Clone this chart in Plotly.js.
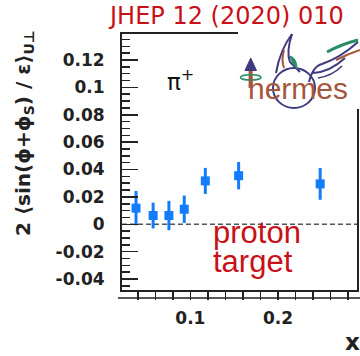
<!DOCTYPE html>
<html>
<head>
<meta charset="utf-8">
<script src="https://cdn.plot.ly/plotly-3.0.1.min.js"></script>
<style>html,body{margin:0;padding:0;background:#fff}#plot{width:360px;height:356px}</style>
</head>
<body>
<div id="plot"></div>
<script>
// ---- data ----
const xValues = [0.038, 0.0575, 0.0755, 0.093, 0.117, 0.155, 0.248];
const asymValues = [0.0118, 0.0064, 0.0064, 0.0110, 0.0317, 0.0355, 0.0295];
const asymErrors = [0.0125, 0.0094, 0.0107, 0.0100, 0.0095, 0.0100, 0.0116];
const yTickVals = [-0.04, -0.02, 0, 0.02, 0.04, 0.06, 0.08, 0.1, 0.12];
const yTickText = ['-0.04', '-0.02', '0', '0.02', '0.04', '0.06', '0.08', '0.1', '0.12'];
const xTickVals = [0.1, 0.2];
const xTickText = ['0.1', '0.2'];

// ---- layout helpers (pixel -> paper) ----
const L = 122, R = 3, T = 34, B = 66, W = 360, H = 356;
const PW = W - L - R, PH = H - T - B;
const px = x => (x - L) / PW;
const py = y => (H - B - y) / PH;
function path(cmds) {
  return cmds.map(c => {
    const k = c[0]; const nums = [];
    for (let i = 1; i < c.length; i += 2) nums.push(px(c[i]).toFixed(4) + ',' + py(c[i + 1]).toFixed(4));
    return k + ' ' + nums.join(' ');
  }).join(' ');
}

const blue = 'rgb(18,124,250)';
const red = 'rgb(200,16,24)';
const navy = 'rgb(62,58,128)';
const brown = 'rgb(166,86,60)';
const green = 'rgb(40,140,100)';

const trace = {
  type: 'scatter', mode: 'markers',
  x: xValues, y: asymValues,
  marker: {symbol: 'square', size: 9, color: blue},
  error_y: {type: 'data', array: asymErrors, visible: true, color: blue, thickness: 3, width: 0},
  showlegend: false, cliponaxis: false
};

const tickFont = {family: 'DejaVu Sans', size: 17, color: '#222', weight: 'bold'};

const shapes = [
  {type: 'line', xref: 'paper', yref: 'y', x0: 0, x1: 1, y0: 0, y1: 0,
   line: {color: '#555', width: 1.5, dash: '5px,3px'}, layer: 'below'},
  {type: 'line', xref: 'paper', yref: 'paper', x0: px(118), x1: 1.02, y0: py(298), y1: py(298),
   line: {color: '#222', width: 1.5}},
  {type: 'rect', xref: 'paper', yref: 'paper', x0: px(238), x1: 1.05, y0: py(109), y1: 1.05,
   fillcolor: '#fff', line: {width: 0}, layer: 'above'},
  {type: 'circle', xref: 'paper', yref: 'paper', x0: px(273), x1: px(315), y0: py(108), y1: py(68),
   line: {color: navy, width: 2}, layer: 'above'},
  {type: 'line', xref: 'paper', yref: 'paper', x0: px(250.6), x1: px(250.6), y0: py(69), y1: py(88),
   line: {color: brown, width: 4}, layer: 'above'},
  {type: 'path', xref: 'paper', yref: 'paper', path: path([['M', 245, 70.5], ['L', 256.5, 70.5], ['L', 250.7, 58], ['Z']]),
   fillcolor: navy, line: {color: navy, width: 1}, layer: 'above'},
  {type: 'circle', xref: 'paper', yref: 'paper', x0: px(240.5), x1: px(261), y0: py(80), y1: py(74.8),
   line: {color: green, width: 1.5}, layer: 'above'},
  {type: 'path', xref: 'paper', yref: 'paper', path: path([['M', 276, 73], ['Q', 280, 50, 292, 34]]),
   line: {color: navy, width: 2}, layer: 'above'},
  {type: 'path', xref: 'paper', yref: 'paper', path: path([['M', 292, 34], ['Q', 286, 52, 290, 62], ['Q', 296, 68, 300, 72]]),
   line: {color: navy, width: 2}, layer: 'above'},
  {type: 'path', xref: 'paper', yref: 'paper', path: path([['M', 284, 50], ['Q', 281, 60, 284, 68]]),
   line: {color: brown, width: 2}, layer: 'above'},
  {type: 'path', xref: 'paper', yref: 'paper', path: path([['M', 290, 56], ['Q', 297, 58, 297, 69], ['Q', 292, 64, 290, 56], ['Z']]),
   fillcolor: green, line: {color: green, width: 1}, layer: 'above'},
  {type: 'path', xref: 'paper', yref: 'paper', path: path([['M', 309, 82], ['Q', 313, 66, 322, 64], ['Q', 340, 58, 358, 42]]),
   line: {color: navy, width: 2}, layer: 'above'},
  {type: 'path', xref: 'paper', yref: 'paper', path: path([['M', 313, 73], ['Q', 330, 72, 345, 58]]),
   line: {color: navy, width: 2}, layer: 'above'},
  {type: 'path', xref: 'paper', yref: 'paper', path: path([['M', 318, 78], ['Q', 332, 76, 342, 66]]),
   line: {color: navy, width: 1.5}, layer: 'above'},
  {type: 'path', xref: 'paper', yref: 'paper', path: path([['M', 327, 52], ['Q', 342, 44, 358, 40]]),
   line: {color: green, width: 3}, layer: 'above'},
  {type: 'path', xref: 'paper', yref: 'paper', path: path([['M', 336, 60], ['Q', 348, 54, 360, 50]]),
   line: {color: brown, width: 2}, layer: 'above'}
];

const annotations = [
  {text: 'JHEP 12 (2020) 010', xref: 'paper', yref: 'paper', x: px(226), y: py(15.5),
   xanchor: 'center', yanchor: 'middle', showarrow: false,
   font: {family: 'DejaVu Sans', size: 24, color: red}},
  {text: '2 ⟨sin(ϕ+ϕ<sub>S</sub>) / ε⟩<sub>U⊥</sub>', xref: 'paper', yref: 'paper', x: px(24), y: py(133),
   xanchor: 'center', yanchor: 'middle', showarrow: false, textangle: -90,
   font: {family: 'DejaVu Sans', size: 20, color: '#222', weight: 'bold'}},
  {text: 'x', xref: 'paper', yref: 'paper', x: px(352), y: py(342),
   xanchor: 'center', yanchor: 'middle', showarrow: false,
   font: {family: 'DejaVu Sans', size: 23, color: '#222', weight: 'bold'}},
  {text: 'π<sup>+</sup>', xref: 'paper', yref: 'paper', x: px(165), y: py(80),
   xanchor: 'left', yanchor: 'middle', showarrow: false,
   font: {family: 'DejaVu Sans', size: 23, color: '#111'}},
  {text: 'hermes', xref: 'paper', yref: 'paper', x: px(246), y: py(88),
   xanchor: 'left', yanchor: 'middle', showarrow: false,
   font: {family: 'Liberation Sans', size: 30, color: brown}},
  {text: 'proton', xref: 'paper', yref: 'paper', x: px(211), y: py(232),
   xanchor: 'left', yanchor: 'middle', showarrow: false,
   font: {family: 'Liberation Sans', size: 31, color: red}},
  {text: 'target', xref: 'paper', yref: 'paper', x: px(211), y: py(261),
   xanchor: 'left', yanchor: 'middle', showarrow: false,
   font: {family: 'Liberation Sans', size: 31, color: red}}
];

const layout = {
  width: W, height: H,
  margin: {l: L, r: R, t: T, b: B, pad: 0},
  paper_bgcolor: '#fff', plot_bgcolor: '#fff',
  showlegend: false,
  xaxis: {
    range: [0.022, 0.29], showgrid: false, zeroline: false,
    showline: true, linecolor: '#222', linewidth: 2, mirror: true,
    tickmode: 'array', tickvals: xTickVals, ticktext: xTickText,
    ticks: 'outside', ticklen: 8, tickwidth: 1.5, tickcolor: '#222',
    minor: {dtick: 0.02, tick0: 0, ticks: 'outside', ticklen: 8, tickwidth: 1.5, tickcolor: '#222', showgrid: false},
    ticklabelstandoff: 4,
    tickfont: tickFont
  },
  yaxis: {
    range: [-0.048, 0.139], showgrid: false, zeroline: false,
    showline: true, linecolor: '#222', linewidth: 2, mirror: true,
    tickmode: 'array', tickvals: yTickVals, ticktext: yTickText,
    ticks: 'inside', ticklen: 16, tickwidth: 1.5, tickcolor: '#222',
    minor: {dtick: 0.005, tick0: 0, ticks: 'inside', ticklen: 8, tickwidth: 1.5, tickcolor: '#222', showgrid: false},
    ticklabelstandoff: 12,
    tickfont: tickFont
  },
  shapes: shapes,
  annotations: annotations
};

Plotly.newPlot('plot', [trace], layout, {staticPlot: true, displayModeBar: false});
</script>
</body>
</html>
